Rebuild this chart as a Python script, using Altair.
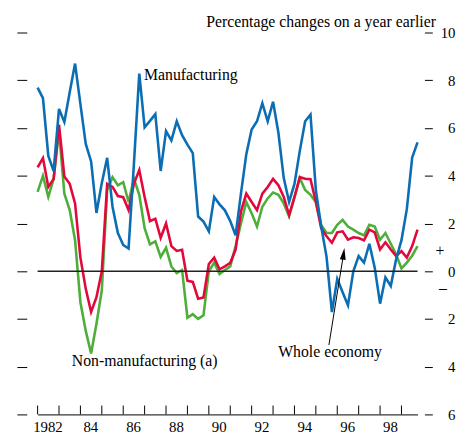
import altair as alt
import pandas as pd

# ---------------- data (quarterly, percentage changes on a year earlier) ----------------
start_year = 1982.0
quarter_step = 0.25

manufacturing = [
    7.69, 7.25, 4.83, 4.2, 6.8, 6.25, 7.5, 8.7, 7.0, 5.33,
    4.6, 2.44, 3.7, 4.75, 2.7, 1.6, 1.1, 0.95, 4.5, 8.28,
    6.03, 6.3, 6.58, 4.2, 5.87, 5.48, 6.28, 5.7, 5.3, 4.95,
    2.29, 2.08, 1.67, 3.11, 2.8, 2.55, 2.1, 1.5, 3.25, 4.9,
    5.94, 6.28, 7.04, 6.28, 7.1, 5.8, 3.9, 2.9, 3.66, 5.04,
    6.28, 6.56, 3.39, 1.87, 0.6, -1.71, -0.33, -0.88, -1.43, 0.0,
    0.63, 0.36, 1.15, 0.15, -1.36, -0.26, -0.62, 0.5, 1.3, 2.6,
    4.76, 5.4,
]
whole_economy = [
    4.35, 4.74, 3.53, 3.87, 6.14, 3.97, 3.66, 2.84, 0.57, -0.74,
    -1.71, -1.09, 0.0, 3.66, 3.53, 3.15, 3.1, 2.56, 3.66, 4.24,
    3.11, 2.1, 2.2, 1.4, 2.0, 1.05, 0.85, 0.9, -0.4, -0.45,
    -1.15, -1.1, 0.3, 0.57, 0.08, 0.2, 0.35, 0.9, 2.5, 3.25,
    2.9, 2.56, 3.25, 3.53, 3.87, 3.6, 3.11, 2.35, 3.1, 3.94,
    3.87, 3.85, 2.9, 1.8, 1.46, 1.19, 1.63, 1.67, 1.32, 1.42,
    1.39, 1.29, 1.74, 1.63, 0.91, 1.21, 0.91, 0.63, 0.84, 0.57,
    1.05, 1.74,
]
non_manufacturing = [
    3.32, 4.0, 3.11, 3.87, 5.9, 3.25, 2.56, 1.3, -1.3, -2.5,
    -3.45, -2.2, -0.8, 3.4, 3.94, 3.6, 3.73, 2.9, 3.87, 3.2,
    1.8, 1.12, 1.25, 0.6, 0.98, 0.2, -0.08, 0.05, -1.95, -1.8,
    -2.0, -1.85, 0.0, 0.36, -0.12, 0.05, 0.2, 1.05, 2.0, 2.9,
    2.43, 1.87, 2.7, 3.05, 3.3, 3.2, 2.84, 2.3, 3.1, 3.9,
    3.4, 3.2, 2.9, 1.94, 1.6, 1.6, 1.94, 2.15, 1.87, 1.74,
    1.6, 1.5, 1.94, 1.87, 1.32, 1.6, 1.15, 0.7, 0.12, 0.36,
    0.65, 1.05,
]

year_ticks = list(range(1982, 2000))
year_labels = [1982, 1984, 1986, 1988, 1990, 1992, 1994, 1996, 1998]
y_ticks = [-6, -4, -2, 0, 2, 4, 6, 8, 10]

# annotations (data coordinates)
label_text = ["Manufacturing", "Non-manufacturing (a)", "Whole economy"]
label_x = [1986.97, 1983.60, 1993.24]
label_y = [8.23, -3.75, -3.39]

title_text = ["Percentage changes on a year earlier"]
title_x = [2000.61]
title_y = [10.25]

sign_text = ["+", "\u2013"]
sign_x = [2000.80, 2000.94]
sign_y = [0.835, -0.71]

arrow_x = [1995.61]
arrow_y = [-3.09]
arrow_x2 = [1996.295]
arrow_y2 = [0.73]

# ---------------- styling ----------------
FONT = "Liberation Serif"
BLUE = "#0b6db3"
RED = "#e2083c"
GREEN = "#4dae39"

W, H = 385, 387

n = len(manufacturing)
quarters = [start_year + quarter_step * i for i in range(n)]

xscale = alt.Scale(domain=[1982, 1999.75], nice=False, zero=False)
yscale = alt.Scale(domain=[-6, 10], nice=False, zero=False)


def series_df(vals):
    return pd.DataFrame({"date": quarters, "value": vals})


x_axis = alt.Axis(
    orient="bottom",
    values=year_labels,
    labelExpr="datum.value == 1982 ? '1982' : '' + (datum.value - 1900)",
    ticks=False, domain=True, domainColor="black", domainWidth=1,
    labelOffset=10, labelPadding=5, labelFlush=False, grid=False,
    labelFont=FONT, labelFontSize=15, labelColor="black",
    labelOverlap=False, title=None,
)

left_axis = alt.Axis(
    orient="left", values=y_ticks, offset=11, tickSize=10, labels=False,
    domain=False, grid=False, tickColor="black", tickWidth=1, title=None,
)

right_axis = alt.Axis(
    orient="right", values=y_ticks, offset=7, tickSize=8, domain=False,
    grid=False, tickColor="black", tickWidth=1,
    labelExpr="'' + abs(datum.value)", labelAlign="right", labelPadding=23,
    labelFont=FONT, labelFontSize=15, labelColor="black", title=None,
)


def X(field):
    return alt.X(field, scale=xscale, axis=x_axis, title=None)


def line_layer(vals, color, yaxis=None):
    return alt.Chart(series_df(vals)).mark_line(
        color=color, strokeWidth=2.6, strokeJoin="miter"
    ).encode(
        x=X("date:Q"),
        y=alt.Y("value:Q", scale=yscale, axis=yaxis),
    )


green_line = line_layer(non_manufacturing, GREEN, yaxis=left_axis)
red_line = line_layer(whole_economy, RED)
blue_line = line_layer(manufacturing, BLUE)

zero_line = alt.Chart(pd.DataFrame({"value": [0]})).mark_rule(
    color="#222222", strokeWidth=1.4
).encode(y=alt.Y("value:Q", scale=yscale, axis=right_axis))

x_tick_marks = alt.Chart(pd.DataFrame({"date": year_ticks})).mark_rule(
    color="black", strokeWidth=1
).encode(
    x=X("date:Q"),
    y=alt.value(H - 9),
    y2=alt.value(H),
)

labels = alt.Chart(pd.DataFrame({"date": label_x, "y": label_y, "t": label_text})).mark_text(
    align="left", baseline="middle", font=FONT, fontSize=16, color="black"
).encode(
    x=X("date:Q"),
    y=alt.Y("y:Q", scale=yscale, axis=None),
    text="t:N",
)

title = alt.Chart(pd.DataFrame({"date": title_x, "y": title_y, "t": title_text})).mark_text(
    align="right", baseline="alphabetic", font=FONT, fontSize=16, color="black"
).encode(
    x=X("date:Q"),
    y=alt.Y("y:Q", scale=yscale, axis=None),
    text="t:N",
)

signs = alt.Chart(pd.DataFrame({"date": sign_x, "y": sign_y, "t": sign_text})).mark_text(
    align="center", baseline="middle", font=FONT, fontSize=16, color="black"
).encode(
    x=X("date:Q"),
    y=alt.Y("y:Q", scale=yscale, axis=None),
    text="t:N",
)

arrow_df = pd.DataFrame({"date": arrow_x, "y": arrow_y, "date2": arrow_x2, "y2": arrow_y2})
arrow_line = alt.Chart(arrow_df).mark_rule(color="black", strokeWidth=1).encode(
    x=X("date:Q"),
    y=alt.Y("y:Q", scale=yscale, axis=None),
    x2="date2:Q",
    y2="y2:Q",
)
arrow_head = alt.Chart(arrow_df).mark_point(
    shape="M0,-1L0.5,1L-0.5,1Z", filled=True, color="black", size=144,
    angle=8, opacity=1,
).encode(
    x=X("date2:Q"),
    y=alt.Y("y2:Q", scale=yscale, axis=None),
)

chart = alt.layer(
    green_line, red_line, blue_line, zero_line, x_tick_marks,
    labels, title, signs, arrow_line, arrow_head,
).resolve_axis(y="independent").properties(
    width=W, height=H,
    autosize=alt.AutoSizeParams(type="none"),
    padding={"left": 30, "top": 22, "right": 40, "bottom": 17},
    background="white",
).configure_view(stroke=None)

chart.save("out.html", embed_options={"renderer": "svg", "actions": False})
